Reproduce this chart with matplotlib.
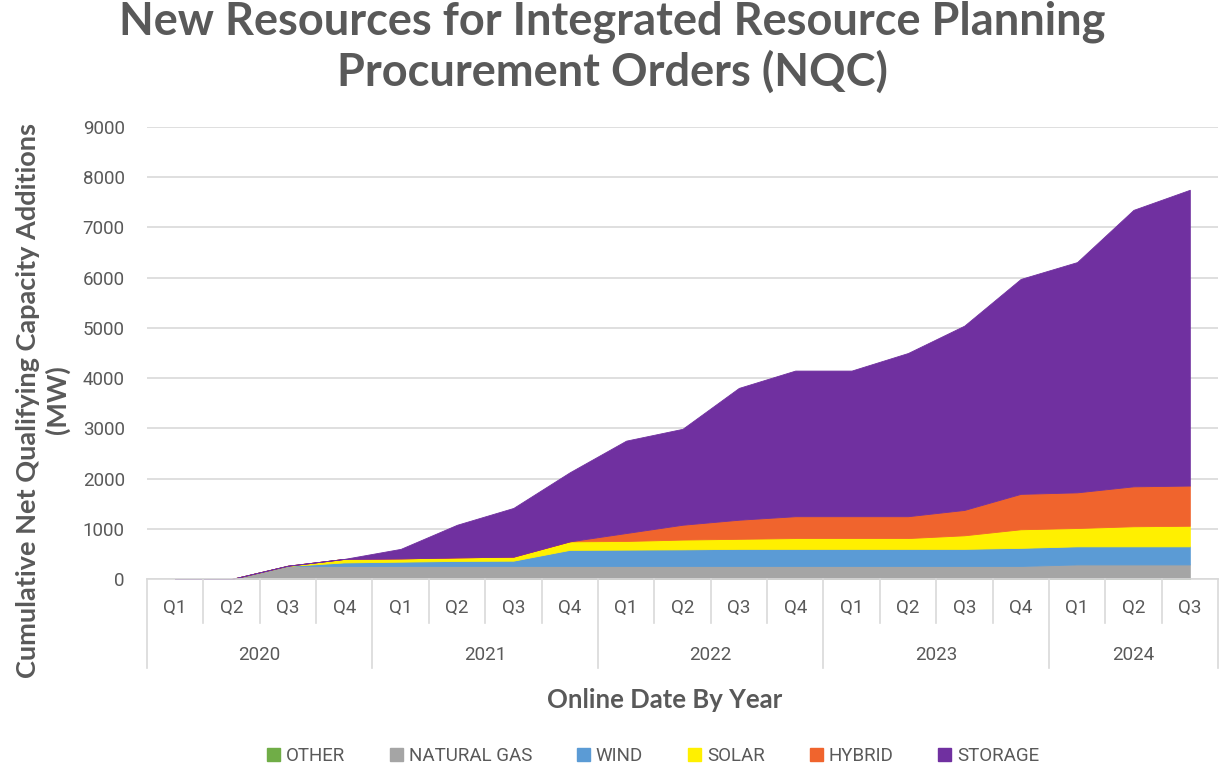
import matplotlib
matplotlib.use("Agg")
import matplotlib.pyplot as plt
from matplotlib.patches import Patch
from matplotlib import font_manager
import matplotlib.transforms as mtransforms
import numpy as np

# ---------------- data ----------------
quarters = ["Q1", "Q2", "Q3", "Q4"] * 4 + ["Q1", "Q2", "Q3"]
years = ["2020", "2021", "2022", "2023", "2024"]
quarters_per_year = [4, 4, 4, 4, 3]

series_names = ["OTHER", "NATURAL GAS", "WIND", "SOLAR", "HYBRID", "STORAGE"]
other       = [0, 0, 0, 0, 0, 0, 0, 0, 0, 0, 0, 0, 0, 0, 0, 0, 5, 5, 5]
natural_gas = [0, 0, 258, 260, 260, 260, 260, 260, 260, 260, 260, 260, 260, 260, 260, 260, 285, 285, 285]
wind        = [0, 0, 2, 70, 85, 100, 105, 320, 325, 330, 340, 340, 340, 340, 340, 360, 360, 360, 360]
solar       = [0, 0, 5, 70, 65, 70, 80, 170, 172, 195, 200, 215, 215, 215, 270, 370, 365, 400, 410]
hybrid      = [0, 0, 0, 0, 0, 0, 0, 0, 158, 295, 380, 435, 435, 435, 505, 705, 710, 795, 800]
storage     = [0, 0, 0, 0, 190, 650, 970, 1375, 1840, 1910, 2625, 2900, 2900, 3250, 3670, 4280, 4585, 5505, 5890]

colors = ["#70AD47", "#A5A5A5", "#5B9BD5", "#FFF000", "#F0642D", "#7030A0"]

# ---------------- fonts ----------------
avail = {f.name for f in font_manager.fontManager.ttflist}
title_font = "Lato" if "Lato" in avail else "DejaVu Sans"
tick_font = "Liberation Sans Narrow" if "Liberation Sans Narrow" in avail else ("Roboto" if "Roboto" in avail else "DejaVu Sans")
text_color = "#595959"

# ---------------- figure ----------------
W, H = 1226, 768
fig = plt.figure(figsize=(W / 100, H / 100), dpi=100)
left, right, top, bottom = 147, 1218, 127, 579
ax = fig.add_axes([left / W, 1 - bottom / H, (right - left) / W, (bottom - top) / H])

x = np.arange(len(quarters))
data = [other, natural_gas, wind, solar, hybrid, storage]
polys = ax.stackplot(x, *data, colors=colors, linewidth=0.6)
for p, c in zip(polys, colors):
    p.set_edgecolor(c)

ax.set_xlim(-0.5, len(quarters) - 0.5)
ax.set_ylim(0, 9000)
ax.set_yticks(np.arange(0, 9001, 1000))
ax.yaxis.grid(True, color="#D9D9D9", linewidth=1.2)
ax.set_axisbelow(True)
for s in ["top", "right", "left"]:
    ax.spines[s].set_visible(False)
ax.spines["bottom"].set_color("#D9D9D9")
ax.spines["bottom"].set_linewidth(1.2)
ax.tick_params(axis="y", length=0, pad=16, labelsize=13.5, labelcolor=text_color)
for lab in ax.get_yticklabels():
    lab.set_fontfamily(tick_font)
ax.set_xticks([])

# multi-level category axis
trans = mtransforms.blended_transform_factory(ax.transData, ax.transAxes)
axh = bottom - top
q_sep = -44 / axh
y_sep = -89 / axh
q_lab = -29 / axh
y_lab = -76 / axh
sep_color = "#D9D9D9"

year_bounds = np.cumsum([0] + quarters_per_year)
for i in range(len(quarters) + 1):
    xs = i - 0.5
    is_year = i in year_bounds
    ax.plot([xs, xs], [0, y_sep if is_year else q_sep], transform=trans,
            color=sep_color, lw=1.2, clip_on=False)
for i, q in enumerate(quarters):
    ax.text(i, q_lab, q, transform=trans, ha="center", va="center",
            fontsize=13.5, color=text_color, family=tick_font)
for k, yr in enumerate(years):
    cx = (year_bounds[k] + year_bounds[k + 1] - 1) / 2
    ax.text(cx, y_lab, yr, transform=trans, ha="center", va="center",
            fontsize=13.5, color=text_color, family=tick_font)

# titles
fig.text(612 / W, 1 - 22 / H, "New Resources for Integrated Resource Planning",
         ha="center", va="center", fontsize=32.5, fontweight="bold",
         color=text_color, family=title_font)
fig.text(612 / W, 1 - 72 / H, "Procurement Orders (NQC)",
         ha="center", va="center", fontsize=32.5, fontweight="bold",
         color=text_color, family=title_font)
fig.text(665 / W, 1 - 700 / H, "Online Date By Year", ha="center", va="center",
         fontsize=18.5, fontweight="bold", color=text_color, family=title_font)
fig.text(43 / W, 1 - 400 / H, "Cumulative Net Qualifying Capacity Additions\n(MW)",
         ha="center", va="center", rotation=90, fontsize=19.5, fontweight="bold",
         color=text_color, family=title_font, linespacing=1.25)

# legend
handles = [Patch(facecolor=c, edgecolor=c) for c in colors]
leg = fig.legend(handles, series_names, loc="center", bbox_to_anchor=(653 / W, 1 - 756 / H),
                 ncol=6, frameon=False, handlelength=0.7, handleheight=0.7,
                 handletextpad=0.3, columnspacing=2.4,
                 prop={"family": tick_font, "size": 13.5})
for t in leg.get_texts():
    t.set_color(text_color)

fig.savefig("out.png", dpi=100)
